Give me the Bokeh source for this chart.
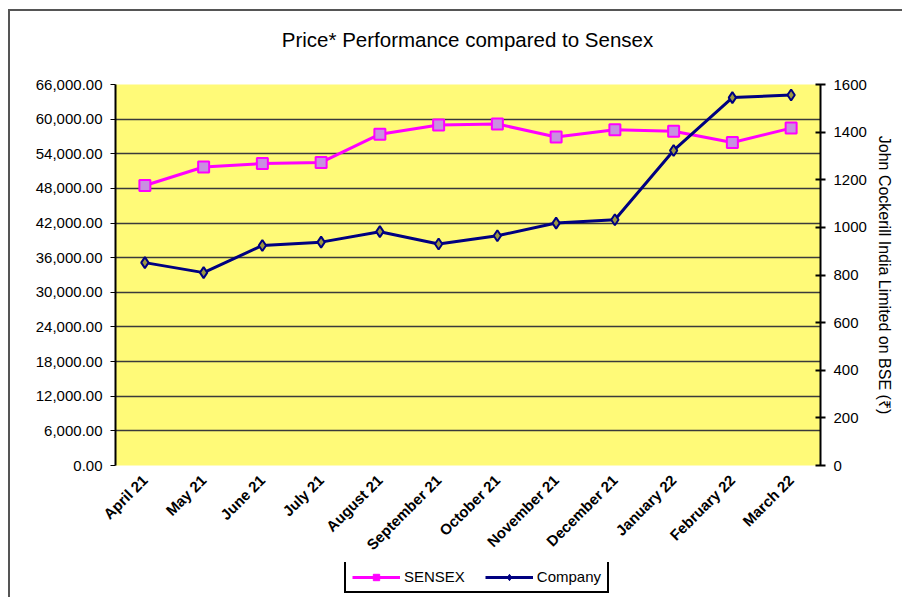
import math
from bokeh.plotting import figure
from bokeh.layouts import column
from bokeh.models import (Range1d, FactorRange, LinearAxis, NumeralTickFormatter,
                          FixedTicker, Legend, LegendItem, Div)
from bokeh.embed import file_html
from bokeh.resources import INLINE

title_text = "Price* Performance compared to Sensex"
right_label = "John Cockerill India Limited on BSE (₹)"
months = ["April 21", "May 21", "June 21", "July 21", "August 21", "September 21",
          "October 21", "November 21", "December 21", "January 22", "February 22", "March 22"]
sensex = [48500, 51700, 52300, 52500, 57400, 59000, 59150, 56900, 58150, 57900, 55950, 58450]
company = [852, 810, 924, 938, 982, 930, 965, 1018, 1032, 1323, 1545, 1556]

left_ticks = [0, 6000, 12000, 18000, 24000, 30000, 36000, 42000, 48000, 54000, 60000, 66000]
right_ticks = [0, 200, 400, 600, 800, 1000, 1200, 1400, 1600]

FONT = "Liberation Sans"
PINK = "#FF00FF"
NAVY = "#000080"

title_div = Div(
    text=('<div style="width:705px;margin-left:105px;text-align:center;'
          "font-family:'Liberation Sans';font-size:20.5px;line-height:58px;color:black;\">"
          + title_text + "</div>"),
    width=892, height=60, margin=0)

p = figure(width=886, height=491, x_range=FactorRange(*months), y_range=Range1d(0, 66000),
           output_backend="svg", toolbar_location=None,
           min_border_left=105, min_border_right=76, min_border_top=13, min_border_bottom=95,
           background_fill_color="#FFFA78", border_fill_color="white")
p.outline_line_color = None

p.extra_y_ranges = {"company": Range1d(0, 1600)}

yl = p.yaxis[0]
yl.ticker = FixedTicker(ticks=left_ticks)
yl.formatter = NumeralTickFormatter(format="0,0.00")
yl.major_label_text_font = FONT
yl.major_label_text_font_size = "15px"
yl.major_label_text_color = "black"
yl.axis_line_color = "black"
yl.axis_line_width = 2
yl.major_tick_out = 5
yl.major_tick_in = 0
yl.major_tick_line_color = "black"
yl.minor_tick_line_color = None
yl.major_label_standoff = 8

yr = LinearAxis(y_range_name="company", ticker=FixedTicker(ticks=right_ticks),
                axis_label=right_label)
yr.major_label_text_font = FONT
yr.major_label_text_font_size = "15px"
yr.major_label_text_color = "black"
yr.axis_label_text_font = FONT
yr.axis_label_text_font_size = "16px"
yr.axis_label_text_font_style = "normal"
yr.axis_label_text_color = "black"
yr.axis_line_color = "black"
yr.axis_line_width = 2
yr.major_tick_out = 5
yr.major_tick_in = 5
yr.major_tick_line_color = "black"
yr.major_tick_line_width = 2
yr.minor_tick_line_color = None
yr.major_label_standoff = 8
yr.axis_label_standoff = 6
p.add_layout(yr, "right")

xa = p.xaxis[0]
xa.major_label_orientation = math.pi / 4
xa.major_label_text_font = FONT
xa.major_label_text_font_size = "15px"
xa.major_label_text_font_style = "bold"
xa.major_label_text_color = "black"
xa.axis_line_color = None
xa.major_tick_line_color = None
xa.major_label_standoff = 6

p.xgrid.grid_line_color = None
p.ygrid.ticker = FixedTicker(ticks=left_ticks)
p.ygrid.grid_line_color = "#3a3a3a"
p.ygrid.grid_line_width = 1.5

p.line(months, sensex, line_color=PINK, line_width=3)
p.scatter(months, sensex, marker="square", size=11, fill_color="#C890E0",
          line_color=PINK, line_width=2)
p.line(months, company, line_color=NAVY, line_width=3, y_range_name="company")
p.scatter(months, company, marker="diamond", size=11, fill_color="#9C9840",
          line_color=NAVY, line_width=2, y_range_name="company")

# legend strip below the chart (same frame borders as the main chart)
q = figure(width=886, height=35, x_range=FactorRange(*months), y_range=Range1d(-2, -1),
           output_backend="svg", toolbar_location=None, x_axis_type=None, y_axis_type=None,
           min_border_left=105, min_border_right=76, min_border_top=0, min_border_bottom=0,
           background_fill_color="white", border_fill_color="white")
q.outline_line_color = None
q.grid.grid_line_color = None
l1 = q.line(months, sensex, line_color=PINK, line_width=3)
m1 = q.scatter(months, sensex, marker="square", size=9, fill_color="#FF00FF",
               line_color=PINK, line_width=1)
l2 = q.line(months, company, line_color=NAVY, line_width=3)
m2 = q.scatter(months, company, marker="diamond", size=9, fill_color=NAVY,
               line_color=NAVY, line_width=1)
legend = Legend(items=[LegendItem(label="SENSEX", renderers=[l1, m1]),
                       LegendItem(label="Company", renderers=[l2, m2])],
                orientation="horizontal", location=(229, 4),
                border_line_color="black", border_line_width=2, border_line_alpha=1,
                background_fill_color="white", background_fill_alpha=1,
                label_text_font=FONT, label_text_font_size="15px", label_text_color="black",
                glyph_width=48, glyph_height=16, spacing=20, padding=6,
                label_standoff=4, margin=0)
q.add_layout(legend, "center")

layout = column(title_div, p, q, spacing=0)
layout.styles = {"border-left": "2px solid #555555", "border-top": "2px solid #555555",
                 "margin-left": "8px", "margin-top": "9px"}

open("out.html", "w").write(file_html(layout, INLINE))
